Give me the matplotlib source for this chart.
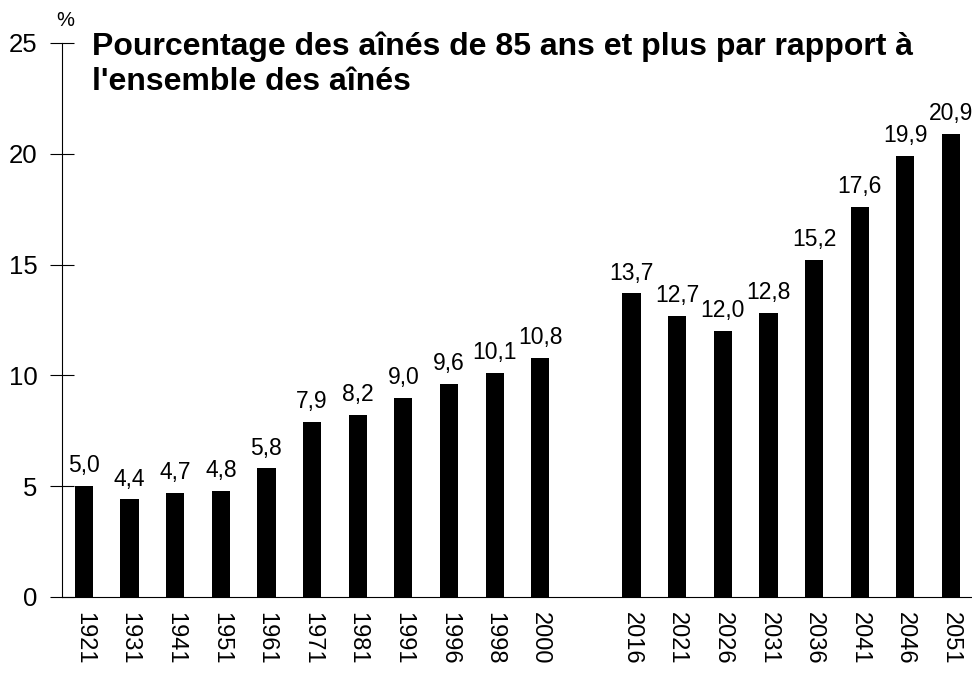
import matplotlib
matplotlib.use("Agg")
import matplotlib.pyplot as plt
import numpy as np

years = ["1921", "1931", "1941", "1951", "1961", "1971", "1981", "1991", "1996", "1998", "2000",
         "2016", "2021", "2026", "2031", "2036", "2041", "2046", "2051"]
values = [5.0, 4.4, 4.7, 4.8, 5.8, 7.9, 8.2, 9.0, 9.6, 10.1, 10.8,
          13.7, 12.7, 12.0, 12.8, 15.2, 17.6, 19.9, 20.9]
title = "Pourcentage des aînés de 85 ans et plus par rapport à\nl'ensemble des aînés"

plt.rcParams['font.family'] = ['Liberation Sans', 'DejaVu Sans']

# one empty slot between 2000 and 2016
pos = [i if i < 11 else i + 1 for i in range(len(years))]

fig = plt.figure(figsize=(9.72, 6.73), dpi=100)
ax = fig.add_axes([62/972, 76/673, 1 - 62/972, (597-43)/673])

ax.bar(pos, values, width=0.4, color="black")
for x, v in zip(pos, values):
    ax.text(x, v + 0.4, ("%.1f" % v).replace(".", ","), ha="center", va="bottom", fontsize=16.5)

ax.set_xlim(-0.48, 19.46)
ax.set_ylim(0, 25)
ax.set_yticks([0, 5, 10, 15, 20, 25])
ax.set_xticks(pos)
ax.set_xticklabels(years, rotation=-90, fontsize=17)
ax.tick_params(axis="x", length=0, pad=11)
ax.tick_params(axis="y", direction="inout", length=17, labelsize=18.5, pad=9)
ax.spines["top"].set_visible(False)
ax.spines["right"].set_visible(False)

ax.text(-0.4, 25.6, "%", fontsize=14.5, ha="center", va="bottom")
ax.text(0.17, 25.5, title, fontsize=23, fontweight="bold", ha="left", va="top", linespacing=1.22)

fig.savefig("out.png", dpi=100)
